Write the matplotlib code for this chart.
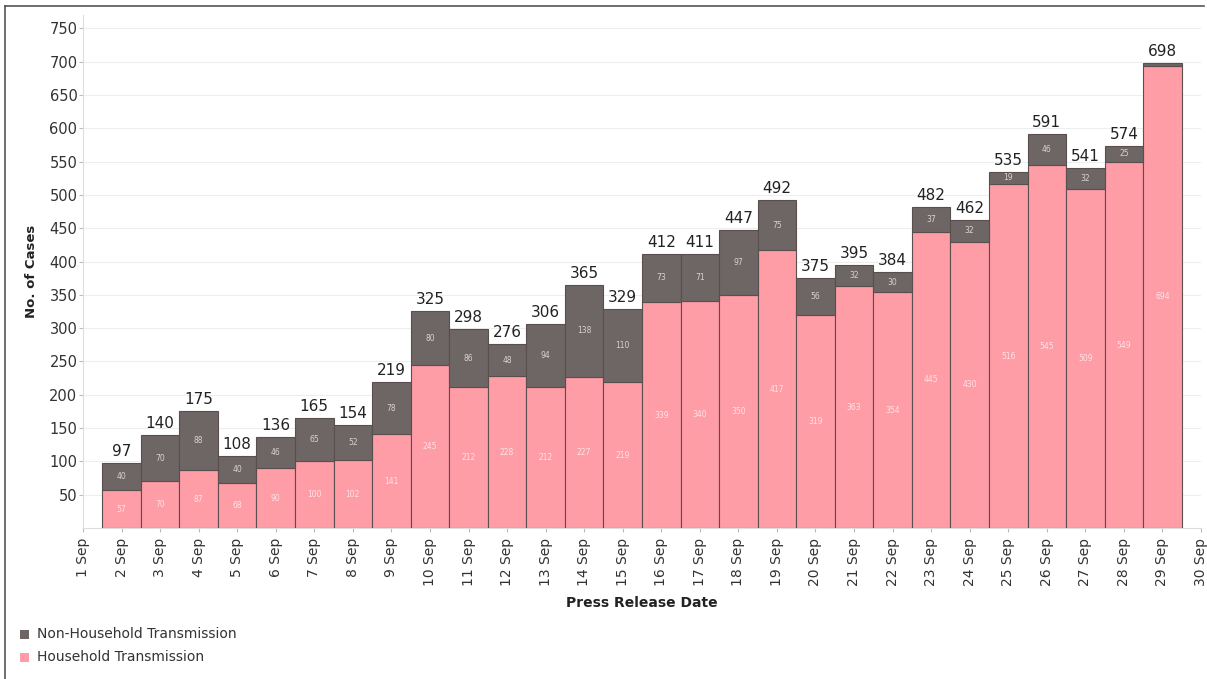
import matplotlib
matplotlib.use("Agg")
import matplotlib.pyplot as plt
from matplotlib.patches import Rectangle

days = list(range(2, 30))
tick_days = list(range(1, 31))
tick_labels = [f"{d} Sep" for d in tick_days]
non_household = [40, 70, 88, 40, 46, 65, 52, 78, 80, 86, 48, 94, 138, 110,
                 73, 71, 97, 75, 56, 32, 30, 37, 32, 19, 46, 32, 25, 4]
household = [57, 70, 87, 68, 90, 100, 102, 141, 245, 212, 228, 212, 227, 219,
             339, 340, 350, 417, 319, 363, 354, 445, 430, 516, 545, 509, 549, 694]
totals = [97, 140, 175, 108, 136, 165, 154, 219, 325, 298, 276, 306, 365, 329,
          412, 411, 447, 492, 375, 395, 384, 482, 462, 535, 591, 541, 574, 698]
yticks = list(range(50, 751, 50))

PINK = "#ff9da7"
GRAY = "#6e6664"
EDGE = "#5a4f4e"

W, H = 1207, 679
fig = plt.figure(figsize=(W / 100, H / 100), dpi=100)
ax = fig.add_axes([83 / W, 1 - 528 / H, (1201 - 83) / W, (528 - 15) / H])

ax.bar(days, household, width=1.0, color=PINK, edgecolor=EDGE, linewidth=0.8, zorder=3,
       label="Household Transmission")
ax.bar(days, non_household, width=1.0, bottom=household, color=GRAY, edgecolor=EDGE,
       linewidth=0.8, zorder=3, label="Non-Household Transmission")

for d, h, n, t in zip(days, household, non_household, totals):
    ax.text(d, t + 6, str(t), ha="center", va="bottom", fontsize=11, color="#222222", zorder=5)
    if n >= 15:
        ax.text(d, h + n / 2, str(n), ha="center", va="center", fontsize=5.5,
                color="#d8d2d0", zorder=5)
    ax.text(d, h / 2, str(h), ha="center", va="center", fontsize=5.5,
            color="#fde3e6", zorder=5)

ax.set_xlim(1, 30)
ax.set_ylim(0, 770)
ax.set_yticks(yticks)
ax.set_yticklabels([str(v) for v in yticks], fontsize=10.5, color="#333333")
ax.set_xticks(tick_days)
ax.set_xticklabels(tick_labels, rotation=90, fontsize=10, color="#333333")
ax.tick_params(axis="y", length=3, color="#bbbbbb", pad=1)
ax.tick_params(axis="x", length=3, color="#bbbbbb", pad=4)
ax.yaxis.grid(True, color="#eeeeee", linewidth=0.8, zorder=0)
ax.set_axisbelow(True)
for s in ["top", "right"]:
    ax.spines[s].set_visible(False)
ax.spines["left"].set_color("#dddddd")
ax.spines["bottom"].set_color("#dddddd")

ax.set_ylabel("No. of Cases", fontsize=9.5, fontweight="bold", color="#222222", labelpad=8)
ax.set_xlabel("Press Release Date", fontsize=10, fontweight="bold", color="#222222", labelpad=7)

# legend
fig.patches.append(Rectangle((20 / W, 1 - 639 / H), 9 / W, 9 / H, transform=fig.transFigure,
                             facecolor=GRAY, edgecolor="none"))
fig.text(37 / W, 1 - 634 / H, "Non-Household Transmission", fontsize=10, va="center",
         color="#333333")
fig.patches.append(Rectangle((20 / W, 1 - 662 / H), 9 / W, 9 / H, transform=fig.transFigure,
                             facecolor=PINK, edgecolor="none"))
fig.text(37 / W, 1 - 657 / H, "Household Transmission", fontsize=10, va="center",
         color="#333333")

# outer frame
fig.add_artist(plt.Line2D([5 / W, 5 / W], [0, 1 - 6 / H], transform=fig.transFigure,
                          color="#555555", linewidth=1.2))
fig.add_artist(plt.Line2D([5 / W, 1 - 3 / W], [1 - 6 / H, 1 - 6 / H], transform=fig.transFigure,
                          color="#555555", linewidth=1.2))

fig.savefig("out.png", dpi=100, facecolor="white")
